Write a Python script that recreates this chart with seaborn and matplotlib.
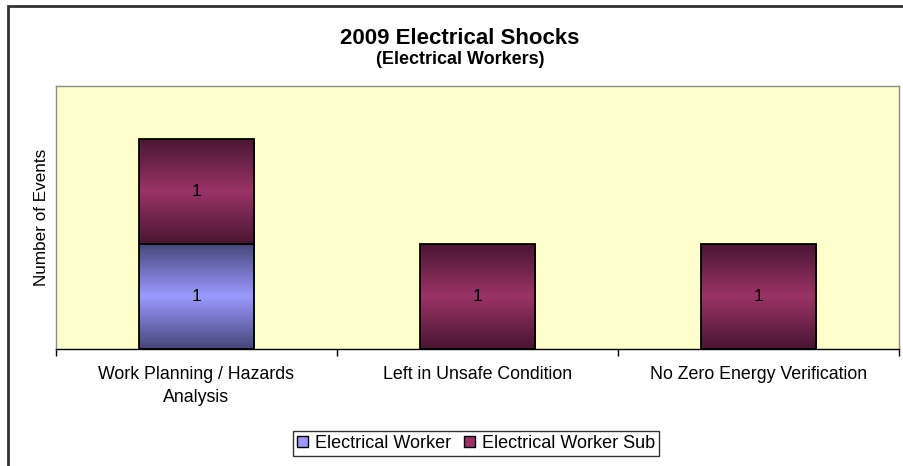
import numpy as np
import pandas as pd
import seaborn as sns
import matplotlib.pyplot as plt
from matplotlib.colors import LinearSegmentedColormap
from matplotlib.patches import Patch, Rectangle

categories = ["Work Planning / Hazards\nAnalysis", "Left in Unsafe Condition", "No Zero Energy Verification"]
series = ["Electrical Worker", "Electrical Worker Sub"]
worker = [1, 0, 0]
worker_sub = [1, 1, 1]

colors = {"Electrical Worker": "#9999FF", "Electrical Worker Sub": "#993366"}
dark = {"Electrical Worker": "#46467a", "Electrical Worker Sub": "#4a1631"}

sns.set_theme(style="white")
plt.rcParams["font.family"] = ["Liberation Sans", "DejaVu Sans"]
plt.rcParams["text.color"] = "black"
plt.rcParams["axes.labelcolor"] = "black"
plt.rcParams["xtick.color"] = "black"

df = pd.DataFrame({"cat": categories, "worker": worker, "sub": worker_sub})

fig = plt.figure(figsize=(9.04, 4.66), dpi=100)
ax = fig.add_axes([56 / 904, 1 - 349 / 466, (899 - 56) / 904, (349 - 86) / 466])
ax.set_facecolor("#FFFFCC")

sns.barplot(data=df, x="cat", y="worker", color=colors[series[0]], width=0.41,
            saturation=1, ax=ax, edgecolor="black", linewidth=1.3)
n_first = len(ax.patches)
sns.barplot(data=df, x="cat", y="sub", color=colors[series[1]], width=0.41,
            saturation=1, ax=ax, edgecolor="black", linewidth=1.3,
            bottom=df["worker"].values)

# gradient fill (dark edges, light middle) clipped to each bar
grad = np.concatenate([np.linspace(0, 1, 50), np.linspace(1, 0, 50)])[:, None]
for i, p in enumerate(ax.patches):
    h = p.get_height()
    if h <= 0:
        continue
    s = series[0] if i < n_first else series[1]
    cmap = LinearSegmentedColormap.from_list(s, [dark[s], colors[s]])
    x0, y0, w = p.get_x(), p.get_y(), p.get_width()
    im = ax.imshow(grad, cmap=cmap, aspect="auto", extent=[x0, x0 + w, y0, y0 + h],
                   zorder=2, interpolation="bilinear")
    im.set_clip_path(p)
    p.set_facecolor("none")
    p.set_zorder(3)
    ax.text(x0 + w / 2, y0 + h / 2, "1", ha="center", va="center", fontsize=12.5, zorder=4)

ax.set_xlim(-0.5, 2.5)
ax.set_ylim(0, 2.5)
ax.set_yticks([])
ax.set_xticks([-0.5, 0.5, 1.5, 2.5])
ax.set_xticklabels([])
ax.set_xticks([0, 1, 2], minor=True)
ax.set_xticklabels(categories, minor=True, fontsize=12.8, linespacing=1.45)
ax.tick_params(axis="x", which="major", direction="out", length=5, width=1, color="black", bottom=True)
ax.tick_params(axis="x", which="minor", length=0, pad=12)
ax.set_xlabel("")
ax.set_ylabel("Number of Events", fontsize=12.3, labelpad=5)

for side in ["left", "top", "right"]:
    ax.spines[side].set_color("#8c8c8c")
    ax.spines[side].set_linewidth(1)
ax.spines["bottom"].set_color("black")
ax.spines["bottom"].set_linewidth(1)

fig.text(460 / 904, 1 - 38 / 466, "2009 Electrical Shocks", ha="center", va="center",
         fontsize=16, fontweight="bold")
fig.text(460 / 904, 1 - 60 / 466, "(Electrical Workers)", ha="center", va="center",
         fontsize=13, fontweight="bold")

handles = [Patch(facecolor=colors[s], edgecolor="black", linewidth=1) for s in series]
fig.legend(handles, series, loc="center", bbox_to_anchor=(476 / 904, 1 - 443.5 / 466), ncol=2,
           frameon=True, fancybox=False, edgecolor="black", fontsize=13,
           handlelength=0.6, handleheight=0.6, handletextpad=0.4, columnspacing=0.7,
           borderpad=0.2, borderaxespad=0)

fig.patches.append(Rectangle((8 / 904, -0.05), 1.1, 1 - 6 / 466 + 0.05, transform=fig.transFigure,
                             fill=False, edgecolor="#333333", linewidth=2))

fig.savefig("out.png", dpi=100)
